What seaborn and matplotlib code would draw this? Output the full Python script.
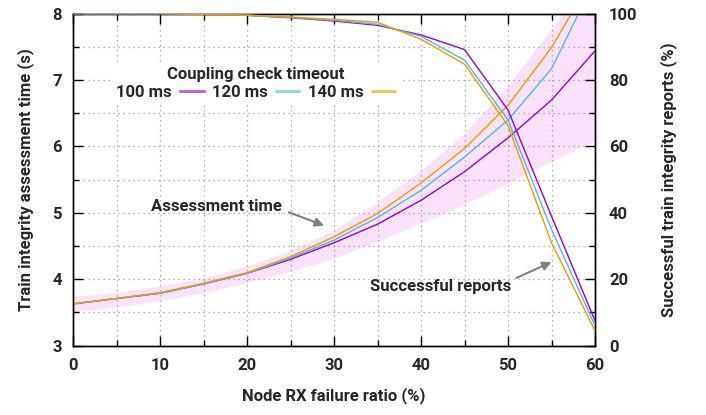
import numpy as np
import pandas as pd
import seaborn as sns
import matplotlib.pyplot as plt
from matplotlib.lines import Line2D
from matplotlib.ticker import MultipleLocator

# node RX failure ratio (%)
failure = [0, 5, 10, 15, 20, 25, 30, 35, 40, 45, 50, 55, 60]

# assessment time (s), one per coupling check timeout
time_100 = [3.63, 3.71, 3.79, 3.93, 4.09, 4.30, 4.55, 4.83, 5.19, 5.62, 6.13, 6.70, 7.44]
time_120 = [3.63, 3.71, 3.79, 3.93, 4.09, 4.32, 4.59, 4.93, 5.34, 5.84, 6.40, 7.17, 8.51]
time_140 = [3.63, 3.71, 3.80, 3.94, 4.10, 4.34, 4.64, 4.99, 5.45, 5.97, 6.62, 7.49, 8.60]

# spread band of assessment time
band_low = [3.52, 3.58, 3.68, 3.80, 3.95, 4.12, 4.32, 4.57, 4.85, 5.13, 5.45, 5.78, 6.09]
band_high = [3.74, 3.80, 3.90, 4.02, 4.20, 4.43, 4.74, 5.17, 5.64, 6.20, 6.93, 7.77, 8.70]

# successful train integrity reports (%)
succ_100 = [100, 100, 100, 99.8, 99.5, 98.8, 97.8, 96.5, 93.6, 89.2, 71.0, 39.0, 7.5]
succ_120 = [100, 100, 100, 99.8, 99.5, 98.9, 98.0, 96.8, 93.2, 86.0, 68.0, 35.0, 6.0]
succ_140 = [100, 100, 100, 99.8, 99.6, 99.0, 98.3, 97.4, 92.3, 84.8, 66.3, 31.0, 4.5]

timeouts = ["100 ms", "120 ms", "140 ms"]
colors = ["#9400d3", "#56b4e9", "#e69f00"]

rows = []
for t, tv, sv in zip(timeouts, [time_100, time_120, time_140], [succ_100, succ_120, succ_140]):
    for f, a, s in zip(failure, tv, sv):
        rows.append({"failure": f, "timeout": t, "time": a, "success": s})
df = pd.DataFrame(rows)

sns.set_style("ticks")
plt.rcParams["font.family"] = ["Roboto", "DejaVu Sans"]
plt.rcParams["font.size"] = 12
plt.rcParams["font.weight"] = "bold"
plt.rcParams["axes.labelweight"] = "bold"

fig, ax = plt.subplots(figsize=(7.06, 4.15), dpi=100)
fig.subplots_adjust(left=0.1034, right=0.8428, top=0.967, bottom=0.167)

ax.fill_between(failure, band_low, band_high, color="#fbe2fb", lw=0, zorder=1)
sns.lineplot(data=df, x="failure", y="time", hue="timeout", palette=colors,
             linewidth=1.0, legend=False, ax=ax, zorder=3)

ax.set_xlim(0, 60)
ax.set_ylim(3, 8)
ax.xaxis.set_major_locator(MultipleLocator(10))
ax.xaxis.set_minor_locator(MultipleLocator(5))
ax.yaxis.set_major_locator(MultipleLocator(1))
ax.yaxis.set_minor_locator(MultipleLocator(0.5))
ax.grid(True, which="both", color="#9a9a9a", linestyle=(0, (1, 3)), linewidth=0.9, zorder=2)
ax.set_axisbelow(False)
ax.tick_params(which="both", direction="in", top=True, right=False, color="black")
ax.tick_params(which="major", length=7, width=1)
ax.tick_params(which="minor", length=4, width=1)
ax.tick_params(axis="x", pad=9)
ax.tick_params(axis="y", pad=8)
ax.set_xlabel("Node RX failure ratio (%)", labelpad=10)
ax.set_ylabel("Train integrity assessment time (s)", labelpad=13)
for s in ax.spines.values():
    s.set_linewidth(1.0)
    s.set_color("black")

ax2 = ax.twinx()
sns.lineplot(data=df, x="failure", y="success", hue="timeout", palette=colors,
             linewidth=1.0, legend=False, ax=ax2, zorder=3)
ax2.set_ylim(0, 100)
ax2.yaxis.set_major_locator(MultipleLocator(20))
ax2.yaxis.set_minor_locator(MultipleLocator(10))
ax2.tick_params(which="both", direction="in", color="black", pad=10)
ax2.tick_params(which="major", length=7, width=1)
ax2.tick_params(which="minor", length=4, width=1)
ax2.set_ylabel("Successful train integrity reports (%)", rotation=90, labelpad=16)
ax2.grid(False)
for s in ax2.spines.values():
    s.set_linewidth(1.0)
    s.set_color("black")

# labels and their pointers
ax.text(16.5, 5.09, "Assessment time", ha="center", va="center", zorder=5)
ax.annotate("", xy=(28.85, 4.81), xytext=(24.8, 5.01), zorder=5,
            arrowprops=dict(arrowstyle="-|>", color="#808080", lw=1.5,
                            mutation_scale=13, shrinkA=0, shrinkB=0))
ax.text(42.2, 3.89, "Successful reports", ha="center", va="center", zorder=5)
ax.annotate("", xy=(55.0, 4.26), xytext=(50.96, 4.02), zorder=5,
            arrowprops=dict(arrowstyle="-|>", color="#808080", lw=1.5,
                            mutation_scale=13, shrinkA=0, shrinkB=0))

handles = [Line2D([], [], color=c, lw=2.2, alpha=0.6) for c in colors]
leg = ax2.legend(handles, timeouts, title="Coupling check timeout", ncol=3,
                 markerfirst=False, loc="upper center", bbox_to_anchor=(0.35, 0.88),
                 frameon=True, fancybox=False, framealpha=1, edgecolor="none",
                 handlelength=1.4, handletextpad=0.5, columnspacing=0.5,
                 borderpad=0.3, labelspacing=0.2, fontsize=12, title_fontsize=12)
leg.get_frame().set_facecolor("white")
leg.get_title().set_fontweight("bold")

fig.savefig("out.png", dpi=100)
